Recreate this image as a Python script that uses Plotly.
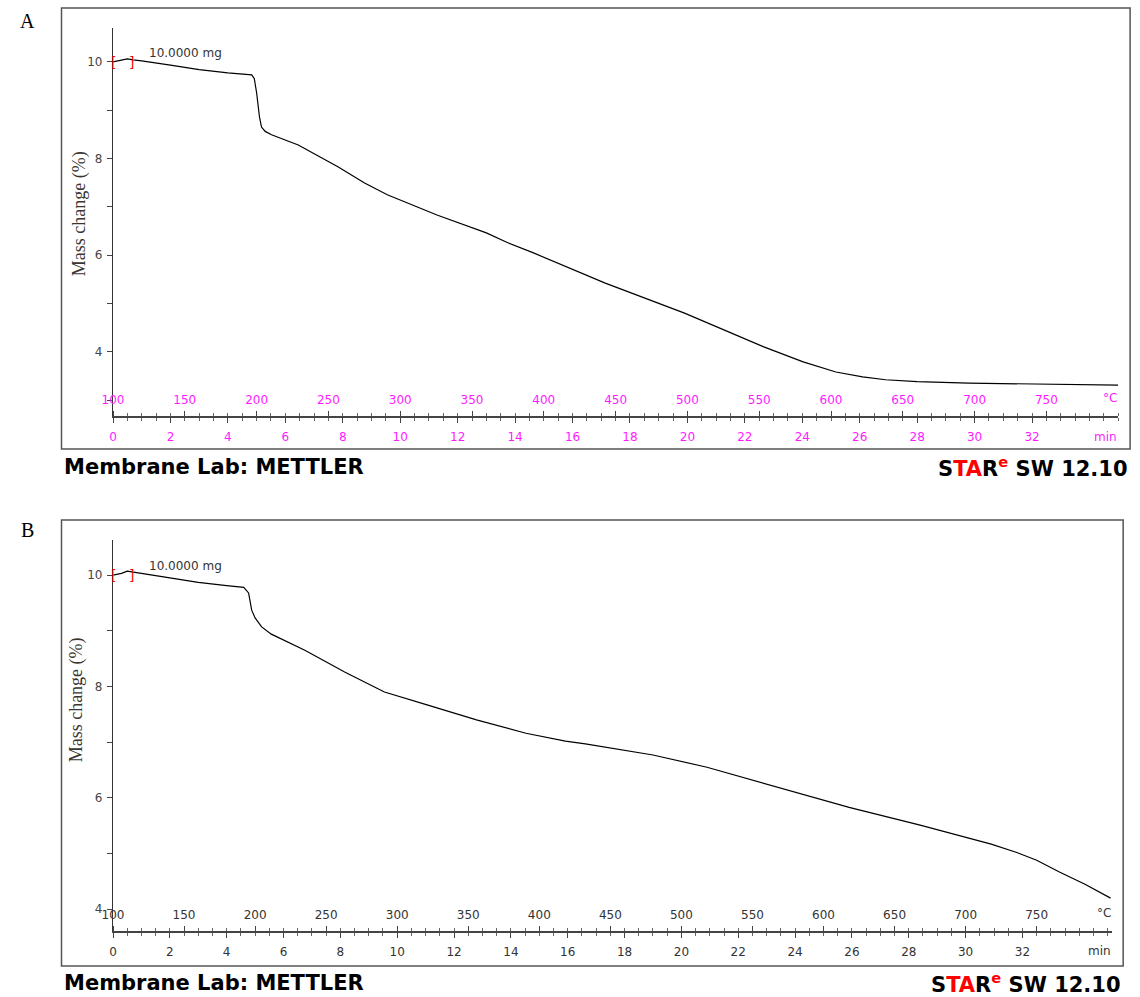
import plotly.graph_objects as go

# ---------------- data ----------------
time_A = [0, 0.3, 0.5, 0.7, 1.0, 2.0, 3.0, 4.0, 4.6, 4.83, 4.92, 5.0, 5.10, 5.17, 5.3, 5.52,
          6.45, 7.24, 7.83, 8.76, 9.55, 11.28, 13.0, 13.69, 14.62, 17.14, 19.9, 22.66,
          24.03, 25.17, 26.1, 26.9, 28.0, 29.8, 31.5, 33.1, 35.0]
mass_A = [10.0, 10.04, 10.06, 10.04, 10.02, 9.93, 9.84, 9.77, 9.75, 9.73, 9.65, 9.36, 8.86, 8.65, 8.56, 8.49,
          8.28, 8.03, 7.83, 7.49, 7.25, 6.83, 6.46, 6.27, 6.05, 5.42, 4.80, 4.10,
          3.79, 3.58, 3.48, 3.42, 3.38, 3.35, 3.34, 3.33, 3.31]

time_B = [0, 0.3, 0.5, 0.7, 1.0, 2.0, 3.0, 4.0, 4.6, 4.77, 4.88, 5.0, 5.23, 5.57, 6.75, 8.15,
          9.55, 11.05, 12.79, 14.53, 15.92, 16.62, 19.0, 20.9, 23.4, 25.9, 28.4, 30.9,
          31.8, 32.5, 33.3, 34.2, 35.1]
mass_B = [10.0, 10.03, 10.07, 10.05, 10.03, 9.95, 9.87, 9.81, 9.78, 9.68, 9.37, 9.23, 9.07, 8.94, 8.65, 8.26,
          7.90, 7.67, 7.40, 7.16, 7.02, 6.97, 6.77, 6.55, 6.19, 5.83, 5.51, 5.17,
          5.02, 4.88, 4.67, 4.45, 4.20]

min_ticks = [0, 2, 4, 6, 8, 10, 12, 14, 16, 18, 20, 22, 24, 26, 28, 30, 32]
temp_ticks = [100, 150, 200, 250, 300, 350, 400, 450, 500, 550, 600, 650, 700, 750]
mass_ticks = [4, 6, 8, 10]

# ---------------- layout helpers ----------------
W, H = 1140, 997
def px(x):
    return x / W
def py(y):
    return 1 - y / H

MAG = "#ff1aff"
DARK = "#333333"
TICKFONT = "DejaVu Sans"

fig = go.Figure()
fig.add_trace(go.Scatter(x=time_A, y=mass_A, xaxis="x", yaxis="y", mode="lines",
                         line=dict(color="black", width=1.2), showlegend=False, hoverinfo="skip"))
fig.add_trace(go.Scatter(x=temp_ticks, y=[None] * len(temp_ticks), xaxis="x2", yaxis="y",
                         mode="lines", showlegend=False, hoverinfo="skip"))
fig.add_trace(go.Scatter(x=time_B, y=mass_B, xaxis="x3", yaxis="y3", mode="lines",
                         line=dict(color="black", width=1.2), showlegend=False, hoverinfo="skip"))
fig.add_trace(go.Scatter(x=temp_ticks, y=[None] * len(temp_ticks), xaxis="x4", yaxis="y3",
                         mode="lines", showlegend=False, hoverinfo="skip"))

def min_axis(domain, rng, anchor, color):
    return dict(domain=domain, range=rng, anchor=anchor, tickvals=min_ticks,
                ticks="outside", ticklen=5, tickcolor="#444", showline=True, linecolor="#444",
                linewidth=1.5, showgrid=False, zeroline=False, ticklabelstandoff=4,
                tickfont=dict(family=TICKFONT, size=12, color=color),
                minor=dict(dtick=0.5, tick0=0, ticks="outside", ticklen=3, tickcolor="#666"))

def temp_axis(overlay, rng, pos, color):
    return dict(overlaying=overlay, anchor="free", position=pos, side="top", range=rng,
                tickvals=temp_ticks, ticks="outside", ticklen=5, tickcolor="#444",
                showline=False, showgrid=False, zeroline=False, ticklabelstandoff=2,
                tickfont=dict(family=TICKFONT, size=12, color=color),
                minor=dict(dtick=10, tick0=100, ticks="outside", ticklen=3, tickcolor="#666"))

def mass_axis(domain, rng, anchor):
    return dict(domain=domain, range=rng, anchor=anchor, tickvals=mass_ticks,
                ticks="outside", ticklen=5, tickcolor="#444", showline=True, linecolor="#333",
                linewidth=1.2, showgrid=False, zeroline=False, ticklabelstandoff=2,
                tickfont=dict(family=TICKFONT, size=12, color="#444"),
                minor=dict(dtick=1, tick0=0, ticks="outside", ticklen=5, tickcolor="#444"))

A_xrange = [0, 35.0]
B_xrange = [0, 35.16]

fig.update_layout(
    width=W, height=H, margin=dict(l=0, r=0, t=0, b=0),
    paper_bgcolor="white", plot_bgcolor="white", showlegend=False,
    xaxis=min_axis([px(103), px(1118)], A_xrange, "y", MAG),
    xaxis2=temp_axis("x", [100 + 20 * A_xrange[0], 100 + 20 * A_xrange[1]], py(416), MAG),
    yaxis=mass_axis([py(416), py(28)], [2.67, 10.70], "x"),
    xaxis3=min_axis([px(103), px(1112)], B_xrange, "y3", DARK),
    xaxis4=temp_axis("x3", [100 + 20 * B_xrange[0], 100 + 20 * B_xrange[1]], py(931), DARK),
    yaxis3=mass_axis([py(931), py(540)], [3.61, 10.63], "x3"),
)

shapes = []
for (x0, y0, x1, y1) in [(51, 8, 1130, 449), (51, 520, 1123, 966)]:
    shapes.append(dict(type="rect", xref="paper", yref="paper", x0=px(x0), x1=px(x1),
                       y0=py(y1), y1=py(y0), line=dict(color="#555", width=1.5)))
fig.update_layout(shapes=shapes)

ann = []
# panel letters
for (lbl, yy) in [("A", 21), ("B", 530)]:
    ann.append(dict(text=lbl, x=px(17), y=py(yy), xref="paper", yref="paper", showarrow=False,
                    xanchor="center", yanchor="middle",
                    font=dict(family="Liberation Serif", size=20, color="black")))
# y titles
for (xx, yy) in [(70, 214), (66, 700)]:
    ann.append(dict(text="Mass change (%)", x=px(xx), y=py(yy), xref="paper", yref="paper",
                    showarrow=False, textangle=-90, xanchor="center", yanchor="middle",
                    font=dict(family="Liberation Serif", size=18, color="#3a3530")))
# units at axis ends
for (xx, yt, ym, col) in [(1110, 398, 437, MAG), (1104, 913, 951, DARK)]:
    ann.append(dict(text="°C", x=px(xx), y=py(yt), xref="paper", yref="paper", showarrow=False,
                    xanchor="center", yanchor="middle",
                    font=dict(family=TICKFONT, size=12, color=col)))
    ann.append(dict(text="min", x=px(xx - 5), y=py(ym), xref="paper", yref="paper", showarrow=False,
                    xanchor="center", yanchor="middle",
                    font=dict(family=TICKFONT, size=12, color=col)))
# footers
for (yy, xr) in [(467, 1130), (983, 1123)]:
    ann.append(dict(text="Membrane Lab: METTLER", x=px(51), y=py(yy), xref="paper", yref="paper",
                    xanchor="left", yanchor="middle", showarrow=False,
                    font=dict(family="DejaVu Sans", size=21, color="black", weight="bold")))
    ann.append(dict(text="S<span style='color:red'>TA</span>R<sup><span style='color:red'>e</span></sup> SW 12.10",
                    x=px(xr), y=py(yy), xref="paper", yref="paper", xanchor="right", yanchor="middle",
                    showarrow=False,
                    font=dict(family="DejaVu Sans", size=21, color="black", weight="bold")))
# sample mass labels and red brackets
for (xa, ya, ym) in [("x", "y", 10.18), ("x3", "y3", 10.16)]:
    ann.append(dict(text="10.0000 mg", x=1.18, y=ym, xref=xa, yref=ya,
                    xanchor="left", yanchor="middle", showarrow=False,
                    font=dict(family=TICKFONT, size=12, color="#333")))
    ann.append(dict(text="[", x=0, y=10.0, xref=xa, yref=ya, showarrow=False,
                    xanchor="center", yanchor="middle",
                    font=dict(family=TICKFONT, size=14, color="red")))
    ann.append(dict(text="]", x=0.65, y=10.0, xref=xa, yref=ya, showarrow=False,
                    xanchor="center", yanchor="middle",
                    font=dict(family=TICKFONT, size=14, color="red")))
fig.update_layout(annotations=ann)

fig.write_html("out.html", config={"displayModeBar": False},
               post_script="document.body.style.margin='0';document.body.style.overflow='hidden';")
